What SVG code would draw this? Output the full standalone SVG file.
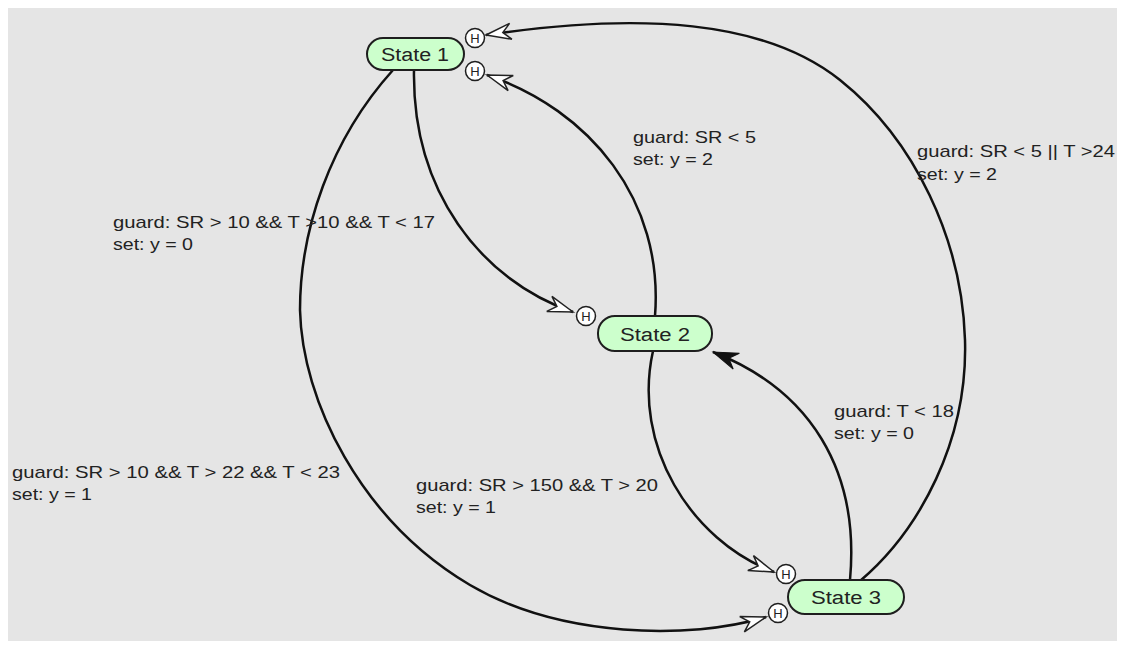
<svg xmlns="http://www.w3.org/2000/svg" width="1121" height="645" viewBox="0 0 1121 645">
<style>
.bg{fill:#e5e5e5}
.state rect{fill:#ccffcc;stroke:#1e1e1e;stroke-width:2}
.state text{font-family:"Liberation Sans",Arial,sans-serif;font-size:18px;fill:#222;text-anchor:middle}
.hist circle{fill:#fff;stroke:#1e1e1e;stroke-width:1.5}
.hist text{font-family:"Liberation Sans",Arial,sans-serif;font-size:13px;fill:#222;text-anchor:middle}
.edge{fill:none;stroke:#111;stroke-width:2.5}
.open{marker-end:url(#openArrow)}
.solid{marker-end:url(#solidArrow)}
.lbl{font-family:"Liberation Sans",Arial,sans-serif;font-size:17px;fill:#222}
</style>
<defs>
<marker id="openArrow" markerUnits="userSpaceOnUse" markerWidth="30" markerHeight="20" refX="0" refY="0" viewBox="-26 -10 28 20" orient="auto" overflow="visible">
<path d="M0,0 L-25,-8 L-17,0 L-25,8 Z" fill="#fff" stroke="#222" stroke-width="1.5" stroke-linejoin="miter"/>
</marker>
<marker id="solidArrow" markerUnits="userSpaceOnUse" markerWidth="30" markerHeight="20" refX="0" refY="0" viewBox="-26 -10 28 20" orient="auto" overflow="visible">
<path d="M0,0 L-25,-8.5 L-17,0 L-25,8.5 Z" fill="#111" stroke="#111" stroke-width="1"/>
</marker>
</defs>
<rect class="bg" x="8" y="8" width="1109" height="633"/>
<g id="connectors">
<path id="e13" class="edge open" d="M393,70 C330,140 300,230 300,310 C302,400 360,520 470,585 C560,638 690,640 766,617"/>
<path id="e12" class="edge open" d="M414,70 C412,190 480,280 573,312"/>
<path id="e21" class="edge open" d="M655,316 C664,200 590,110 487,75"/>
<path id="e23" class="edge open" d="M653,351 C632,445 690,540 774,572"/>
<path id="e32" class="edge solid" d="M850,580 C860,470 810,390 713,352"/>
<path id="e31" class="edge open" d="M860,581 C920,530 968,440 965,340 C962,240 915,140 840,80 C765,20 640,12 486,35"/>
</g>
<g id="labels">
<text class="lbl" x="12" y="478" textLength="328" lengthAdjust="spacingAndGlyphs">guard: SR &gt; 10 &amp;&amp; T &gt; 22 &amp;&amp; T &lt; 23</text>
<text class="lbl" x="12" y="500" textLength="80" lengthAdjust="spacingAndGlyphs">set: y = 1</text>
<text class="lbl" x="113" y="228" textLength="322" lengthAdjust="spacingAndGlyphs">guard: SR &gt; 10 &amp;&amp; T &gt;10 &amp;&amp; T &lt; 17</text>
<text class="lbl" x="113" y="250" textLength="80" lengthAdjust="spacingAndGlyphs">set: y = 0</text>
<text class="lbl" x="416" y="491" textLength="242" lengthAdjust="spacingAndGlyphs">guard: SR &gt; 150 &amp;&amp; T &gt; 20</text>
<text class="lbl" x="416" y="513" textLength="80" lengthAdjust="spacingAndGlyphs">set: y = 1</text>
<text class="lbl" x="633" y="143" textLength="123" lengthAdjust="spacingAndGlyphs">guard: SR &lt; 5</text>
<text class="lbl" x="633" y="165" textLength="80" lengthAdjust="spacingAndGlyphs">set: y = 2</text>
<text class="lbl" x="834" y="417" textLength="120" lengthAdjust="spacingAndGlyphs">guard: T &lt; 18</text>
<text class="lbl" x="834" y="439" textLength="80" lengthAdjust="spacingAndGlyphs">set: y = 0</text>
<text class="lbl" x="917" y="157" textLength="198" lengthAdjust="spacingAndGlyphs">guard: SR &lt; 5 || T &gt;24</text>
<text class="lbl" x="917" y="180" textLength="80" lengthAdjust="spacingAndGlyphs">set: y = 2</text>
</g>
<g id="state1" class="state">
<rect x="367" y="38" width="97" height="32" rx="16"/>
<text x="415" y="61" textLength="68" lengthAdjust="spacingAndGlyphs">State 1</text>
</g>
<g id="state2" class="state">
<rect x="598" y="316" width="114" height="35" rx="17"/>
<text x="655" y="341" textLength="70" lengthAdjust="spacingAndGlyphs">State 2</text>
</g>
<g id="state3" class="state">
<rect x="788" y="580" width="116" height="34" rx="17"/>
<text x="846" y="604" textLength="70" lengthAdjust="spacingAndGlyphs">State 3</text>
</g>
<g id="h1a" class="hist"><circle cx="475" cy="38" r="9.5"/><text x="475" y="43">H</text></g>
<g id="h1b" class="hist"><circle cx="475" cy="71" r="9.5"/><text x="475" y="76">H</text></g>
<g id="h2" class="hist"><circle cx="586" cy="316" r="9.5"/><text x="586" y="321">H</text></g>
<g id="h3a" class="hist"><circle cx="786" cy="574" r="9.5"/><text x="786" y="579">H</text></g>
<g id="h3b" class="hist"><circle cx="778" cy="613" r="9.5"/><text x="778" y="618">H</text></g>
</svg>
